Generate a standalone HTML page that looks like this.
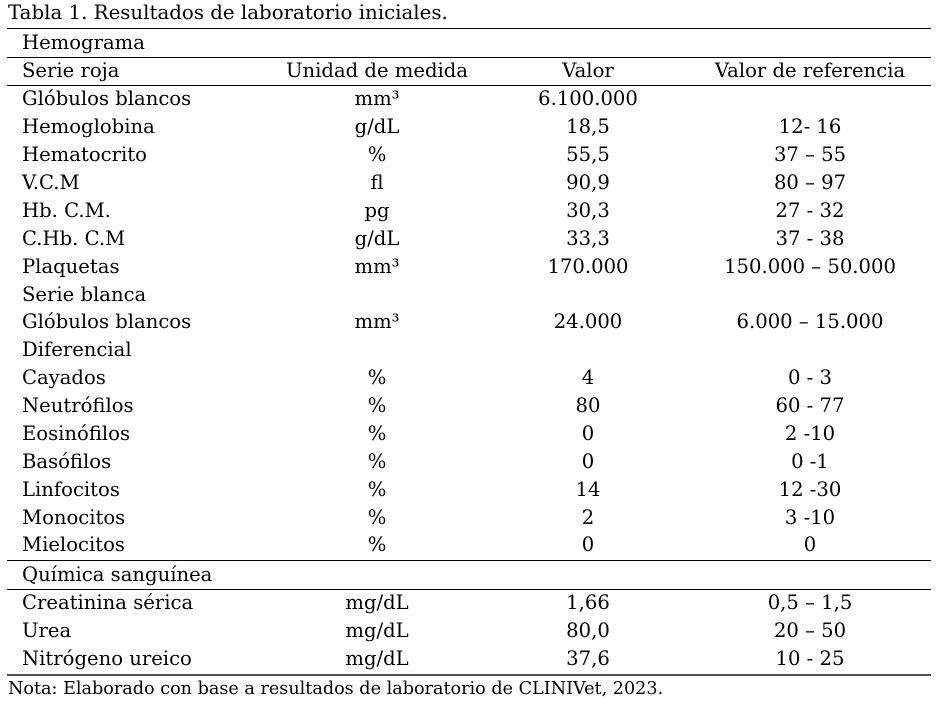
<!DOCTYPE html>
<html><head><meta charset="utf-8">
<style>
body{margin:0;background:#fff;width:940px;height:712px;position:relative;overflow:hidden;font-family:"DejaVu Serif","Liberation Serif",serif;color:#000}
.t{position:absolute;white-space:nowrap;font-size:19.6px;line-height:22px}
.c{transform:translateX(-50%)}
.ln{position:absolute;left:7px;width:924px;height:1px;background:#000}
</style></head><body>
<div class="t" style="left:8px;top:2px;font-size:19.8px">Tabla 1. Resultados de laboratorio iniciales.</div>
<div class="ln" style="top:28px"></div>
<div class="ln" style="top:57px"></div>
<div class="ln" style="top:85px"></div>
<div class="ln" style="top:560px"></div>
<div class="ln" style="top:589px"></div>
<div class="ln" style="top:674px;height:2px;background:#555"></div>
<div class="t" style="left:8px;top:678px;font-size:17.6px">Nota: Elaborado con base a resultados de laboratorio de CLINIVet, 2023.</div>
<div id="tbl"></div>
<script>
const rows=[
[43,"Hemograma","","",""],
[71,"Serie roja","Unidad de medida","Valor","Valor de referencia"],
[99,"Glóbulos blancos","mm³","6.100.000",""],
[127,"Hemoglobina","g/dL","18,5","12- 16"],
[155,"Hematocrito","%","55,5","37 – 55"],
[183,"V.C.M","fl","90,9","80 – 97"],
[211,"Hb. C.M.","pg","30,3","27 - 32"],
[239,"C.Hb. C.M","g/dL","33,3","37 - 38"],
[267,"Plaquetas","mm³","170.000","150.000 – 50.000"],
[295,"Serie blanca","","",""],
[322,"Glóbulos blancos","mm³","24.000","6.000 – 15.000"],
[350,"Diferencial","","",""],
[378,"Cayados","%","4","0 - 3"],
[406,"Neutrófilos","%","80","60 - 77"],
[434,"Eosinófilos","%","0","2 -10"],
[462,"Basófilos","%","0","0 -1"],
[490,"Linfocitos","%","14","12 -30"],
[518,"Monocitos","%","2","3 -10"],
[545,"Mielocitos","%","0","0"],
[575,"Química sanguínea","","",""],
[603,"Creatinina sérica","mg/dL","1,66","0,5 – 1,5"],
[631,"Urea","mg/dL","80,0","20 – 50"],
[659,"Nitrógeno ureico","mg/dL","37,6","10 - 25"]];
const xs=[22,377,588,810];
const tbl=document.getElementById('tbl');
rows.forEach((r,i)=>{
  for(let k=1;k<5;k++){
    if(!r[k])continue;
    const d=document.createElement('div');
    d.className='t'+(k>1?' c':'');
    d.style.left=xs[k-1]+'px';d.style.top=(r[0]-11)+'px';
    d.textContent=r[k];
    
    
    tbl.appendChild(d);
  }
});
</script>
</body></html>
